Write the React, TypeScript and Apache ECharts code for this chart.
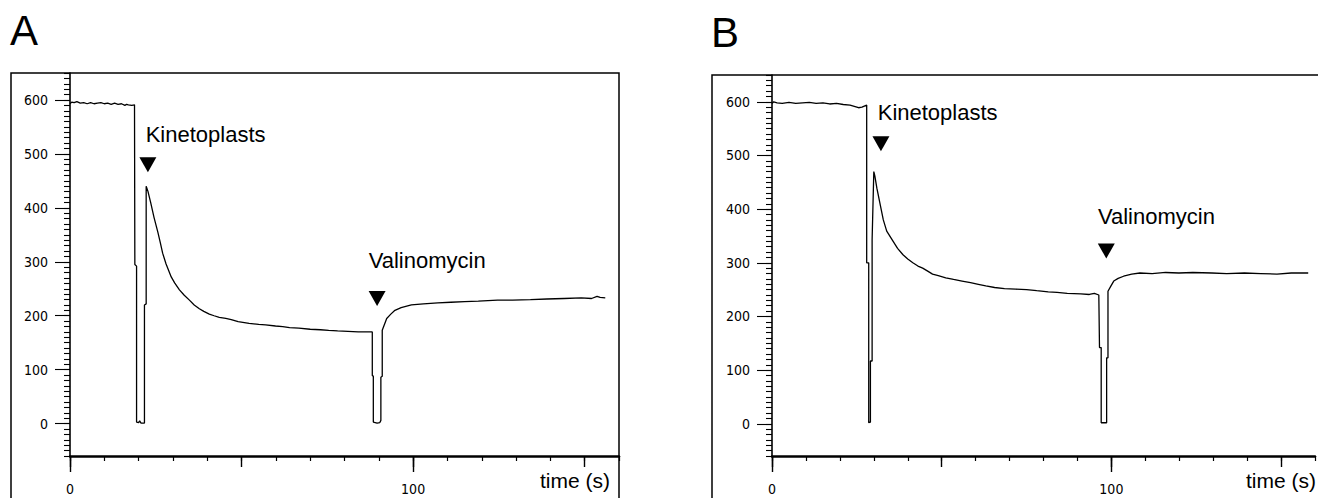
import React, { useEffect, useRef } from "react";
import * as echarts from "echarts";

// ---- data ----
const traceA: [number, number][] = [
  [0, 593], [0.5, 596], [1.2, 595], [2, 597], [3, 594], [4, 595], [5, 593], [6, 595], [7, 593],
  [8, 594], [9, 595], [10, 593], [11, 594], [12, 592], [13, 594], [14, 592], [15, 593], [16, 590],
  [16.5, 592], [17, 591], [18, 590], [18.8, 591],
  [18.9, 591], [18.9, 295], [19.4, 292], [19.4, 3], [20, 2], [20.3, 5], [20.7, 1], [21.7, 1],
  [21.7, 220], [22.2, 222], [22.2, 440], [22.7, 431], [23.5, 410], [24.5, 382], [25.6, 355],
  [26.3, 336], [27, 316], [28, 296], [29.5, 272], [30.5, 261], [31.9, 248], [33.3, 238],
  [34.8, 229], [36.2, 220], [37.7, 213], [39, 208], [40.6, 203], [42, 200], [43.5, 197],
  [45.4, 195], [47, 193], [49, 189], [52.2, 186], [55, 184], [57, 183], [59.9, 181], [62, 180],
  [64, 178], [66.7, 177], [70, 175], [73, 174], [75.4, 173], [78, 172], [81, 171], [84, 170],
  [86, 170], [88.1, 170],
  [88.1, 89], [88.4, 88], [88.4, 3], [89.5, 1], [90.3, 2], [90.6, 6], [90.6, 86], [91, 88],
  [91, 173], [92.3, 195], [93.5, 203], [94.7, 210], [96.5, 215], [99.5, 220], [103, 222],
  [107.2, 224], [111, 225], [115, 226], [119, 227], [124.6, 229], [129, 229], [134.2, 230],
  [139, 231], [144, 232], [149, 233], [152, 232], [153.6, 236], [154.5, 234], [156, 233],
];

const traceB: [number, number][] = [
  [0, 597], [0.5, 600], [1.5, 598], [3, 597], [5, 599], [7, 597], [9, 598], [11, 599], [13, 597],
  [15, 598], [17, 596], [19, 597], [21, 595], [23, 594], [24.5, 591], [25.5, 589], [26.5, 590],
  [27.2, 592], [27.9, 594],
  [27.9, 300], [28.5, 300], [28.5, 2], [29, 3], [29, 117], [29.5, 117], [29.5, 343], [30.0, 470],
  [30.3, 462], [30.9, 439], [31.9, 408], [32.8, 380], [33.8, 359], [34.5, 352], [35.7, 340],
  [37, 327], [38.6, 315], [40, 307], [41.5, 300], [43, 294], [44.4, 290], [46, 284], [47.3, 279],
  [49, 276], [51.2, 272], [53.5, 269], [56, 266], [58.5, 263], [60.8, 260], [63, 257],
  [65.6, 254], [68.5, 252], [71.8, 251], [75, 250], [78, 248], [81.4, 246], [84, 245], [87, 243],
  [91, 242], [93.5, 241], [95, 243], [96.3, 240], [96.5, 240],
  [96.5, 142], [97, 142], [97, 2], [98.6, 2], [98.6, 123], [99, 123], [99, 247], [99.8, 256],
  [100.7, 266], [102, 271], [103.6, 275], [106, 279], [108.4, 281], [112, 280], [116, 282],
  [119.9, 281], [124, 282], [129.6, 281], [134, 280], [139.2, 281], [144, 280], [148.8, 279],
  [153, 281], [158, 281],
];

const annotationNames = ["Kinetoplasts", "Valinomycin"];
const markersA: [number, number][] = [[22.7, 480], [89.5, 232]];
const markersB: [number, number][] = [[32.1, 522], [98.5, 322]];
const labelsA: [number, number][] = [[21.9, 536], [86.9, 303]];
const labelsB: [number, number][] = [[31.0, 580], [95.9, 386]];

const yLabelValues = [0, 100, 200, 300, 400, 500, 600];
const xLabelValues = [0, 100];
const xHalfTicks = [0, 50, 100, 150];
const panelNames = ["A", "B"];
const xName = "time (s)";

const Y_MIN = -60;
const Y_MAX = 650;
const X_MIN = 0;
const X_MAX = 160;

const axisFont = "'Liberation Sans Narrow', 'DejaVu Sans Condensed', 'Arial Narrow', sans-serif";
const textFont = "'Liberation Sans', Arial, Helvetica, sans-serif";
const black = "#000";

function makeXAxes(gridIndex: number) {
  const base = {
    type: "value" as const,
    gridIndex,
    min: X_MIN,
    max: X_MAX,
    position: "bottom" as const,
    splitLine: { show: false },
  };
  return [
    {
      ...base,
      interval: 10,
      axisLine: { show: true, onZero: false, lineStyle: { color: black, width: 2.5 } },
      axisTick: { show: true, length: 5, lineStyle: { color: black, width: 1.2 } },
      axisLabel: {
        show: true,
        margin: 26,
        color: black,
        fontFamily: axisFont,
        fontSize: 14,
        formatter: (v: number) => (xLabelValues.includes(v) ? String(v) : ""),
      },
    },
    {
      ...base,
      axisLine: { show: false, onZero: false },
      axisTick: { show: true, customValues: xHalfTicks, length: 11, lineStyle: { color: black, width: 1.4 } },
      axisLabel: { show: false, customValues: xHalfTicks },
    },
    {
      ...base,
      axisLine: { show: false, onZero: false },
      axisTick: { show: true, customValues: xLabelValues, length: 16, lineStyle: { color: black, width: 1.4 } },
      axisLabel: { show: false, customValues: xLabelValues },
    },
  ];
}

function makeYAxes(gridIndex: number) {
  const base = {
    type: "value" as const,
    gridIndex,
    min: Y_MIN,
    max: Y_MAX,
    position: "left" as const,
    splitLine: { show: false },
  };
  return [
    {
      ...base,
      interval: 10,
      axisLine: { show: true, onZero: false, lineStyle: { color: black, width: 1.6 } },
      axisTick: { show: true, length: 6, lineStyle: { color: black, width: 1.1 } },
      axisLabel: { show: false },
    },
    {
      ...base,
      axisLine: { show: false, onZero: false },
      axisTick: { show: true, customValues: yLabelValues, length: 15, lineStyle: { color: black, width: 1.1 } },
      axisLabel: {
        show: true,
        customValues: yLabelValues,
        margin: 22,
        color: black,
        fontFamily: axisFont,
        fontSize: 14,
      },
    },
  ];
}

function panelSeries(
  idx: number,
  trace: [number, number][],
  markers: [number, number][],
  labels: [number, number][]
) {
  const xi = idx * 3;
  const yi = idx * 2;
  return [
    {
      type: "line",
      xAxisIndex: xi,
      yAxisIndex: yi,
      data: trace,
      showSymbol: false,
      symbol: "none",
      lineStyle: { color: black, width: 1.3 },
      silent: true,
    },
    {
      type: "scatter",
      xAxisIndex: xi,
      yAxisIndex: yi,
      data: markers,
      symbol: "triangle",
      symbolRotate: 180,
      symbolSize: [17, 15],
      itemStyle: { color: black, opacity: 1 },
      silent: true,
    },
    {
      type: "scatter",
      xAxisIndex: xi,
      yAxisIndex: yi,
      data: labels.map((p, i) => ({ value: p, name: annotationNames[i] })),
      symbolSize: 1,
      itemStyle: { color: "rgba(0,0,0,0)", opacity: 1 },
      label: {
        show: true,
        position: "right",
        distance: 0,
        formatter: "{b}",
        color: black,
        fontFamily: textFont,
        fontSize: 22,
      },
      labelLayout: { hideOverlap: false },
      silent: true,
    },
  ];
}

export default function App() {
  const ref = useRef<HTMLDivElement>(null);

  useEffect(() => {
    if (!ref.current) return;
    const chart = echarts.init(ref.current, undefined, { renderer: "svg" });
    const option: any = {
      animation: false,
      backgroundColor: "#fff",
      grid: [
        { left: 70, top: 73, width: 549, height: 383 },
        { left: 772, top: 75, width: 553, height: 381 },
      ],
      xAxis: [...makeXAxes(0), ...makeXAxes(1)],
      yAxis: [...makeYAxes(0), ...makeYAxes(1)],
      series: [
        ...panelSeries(0, traceA, markersA, labelsA),
        ...panelSeries(1, traceB, markersB, labelsB),
      ],
      graphic: [
        {
          type: "rect",
          shape: { x: 11, y: 73, width: 608, height: 460 },
          style: { fill: "none", stroke: black, lineWidth: 1.5 },
          silent: true,
        },
        {
          type: "rect",
          shape: { x: 712, y: 75, width: 620, height: 460 },
          style: { fill: "none", stroke: black, lineWidth: 1.5 },
          silent: true,
        },
        {
          type: "text",
          x: 10,
          y: 30,
          style: { text: panelNames[0], font: `42px ${textFont}`, fill: black, textAlign: "left", textVerticalAlign: "middle" },
        },
        {
          type: "text",
          x: 711,
          y: 32,
          style: { text: panelNames[1], font: `42px ${textFont}`, fill: black, textAlign: "left", textVerticalAlign: "middle" },
        },
        {
          type: "text",
          x: 610,
          y: 480,
          style: { text: xName, font: `21px ${textFont}`, fill: black, textAlign: "right", textVerticalAlign: "middle" },
        },
        {
          type: "text",
          x: 1316,
          y: 480,
          style: { text: xName, font: `21px ${textFont}`, fill: black, textAlign: "right", textVerticalAlign: "middle" },
        },
      ],
    };
    chart.setOption(option);
    return () => chart.dispose();
  }, []);

  return (
    <div
      ref={ref}
      style={{ position: "absolute", left: 0, top: 0, width: 1318, height: 498, background: "#fff", overflow: "hidden" }}
    />
  );
}
